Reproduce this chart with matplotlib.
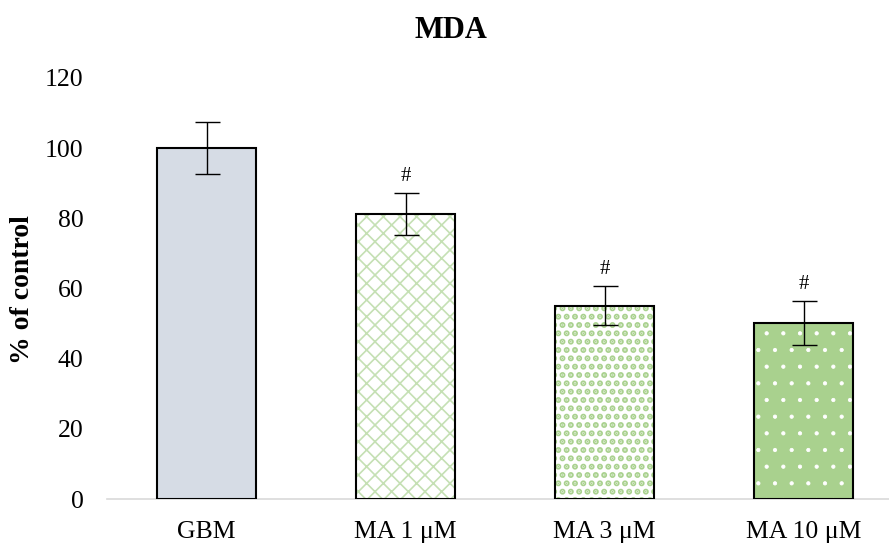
import matplotlib.pyplot as plt

# MDA levels, % of control
groups = ['GBM', 'MA 1 μM', 'MA 3 μM', 'MA 10 μM']
mda = [100, 81.2, 55.1, 50.1]
mda_err = [7.4, 6.0, 5.6, 6.3]
marks = ['', '#', '#', '#']

# fill / hatch per bar
faces = ['#d6dce5', 'white', 'white', '#a9d18e']
hatch_colors = ['#d6dce5', '#c5e0b4', '#a9d18e', 'white']
hatches = [None, 'xx', '..', '.']
hatch_widths = [1.0, 1.2, 3.0, 0.6]

plt.rcParams['font.family'] = ['Liberation Serif', 'DejaVu Serif']

fig = plt.figure(figsize=(8.89, 5.44), dpi=100)
ax = fig.add_axes([107 / 889, 45 / 544, 796 / 889, 421 / 544])

x = range(len(groups))
for i in x:
    # hatch takes the edge colour, so draw the fill first, then the outline
    with plt.rc_context({'hatch.linewidth': hatch_widths[i]}):
        ax.bar(i, mda[i], width=0.5, color=faces[i], edgecolor=hatch_colors[i],
               hatch=hatches[i], linewidth=0, zorder=2)
    ax.bar(i, mda[i], width=0.5, fill=False, edgecolor='black',
           linewidth=1.5, zorder=3)

ax.errorbar(x, mda, yerr=mda_err, fmt='none', ecolor='black',
            elinewidth=1, capsize=9, capthick=1, zorder=4)

for i in x:
    if marks[i]:
        ax.text(i, mda[i] + mda_err[i] + 2, marks[i], ha='center',
                va='bottom', fontsize=15)

ax.set_xlim(-0.5, 3.5)
ax.set_ylim(0, 120)
ax.set_yticks(range(0, 121, 20))
ax.set_xticks(list(x))
ax.set_xticklabels(groups)
ax.tick_params(axis='both', length=0, labelsize=18.5)
ax.tick_params(axis='x', pad=16)
ax.tick_params(axis='y', pad=17)

for side in ['top', 'right', 'left']:
    ax.spines[side].set_visible(False)
ax.spines['bottom'].set_color('#d9d9d9')
ax.spines['bottom'].set_linewidth(1.2)

fig.text(451 / 889, 1 - 30 / 544, 'MDA', ha='center', va='center',
         fontsize=22, fontweight='bold')
fig.text(23 / 889, 1 - 290 / 544, '% of control', ha='center', va='center',
         rotation=90, fontsize=20, fontweight='bold')

fig.savefig('out.png', dpi=100)
